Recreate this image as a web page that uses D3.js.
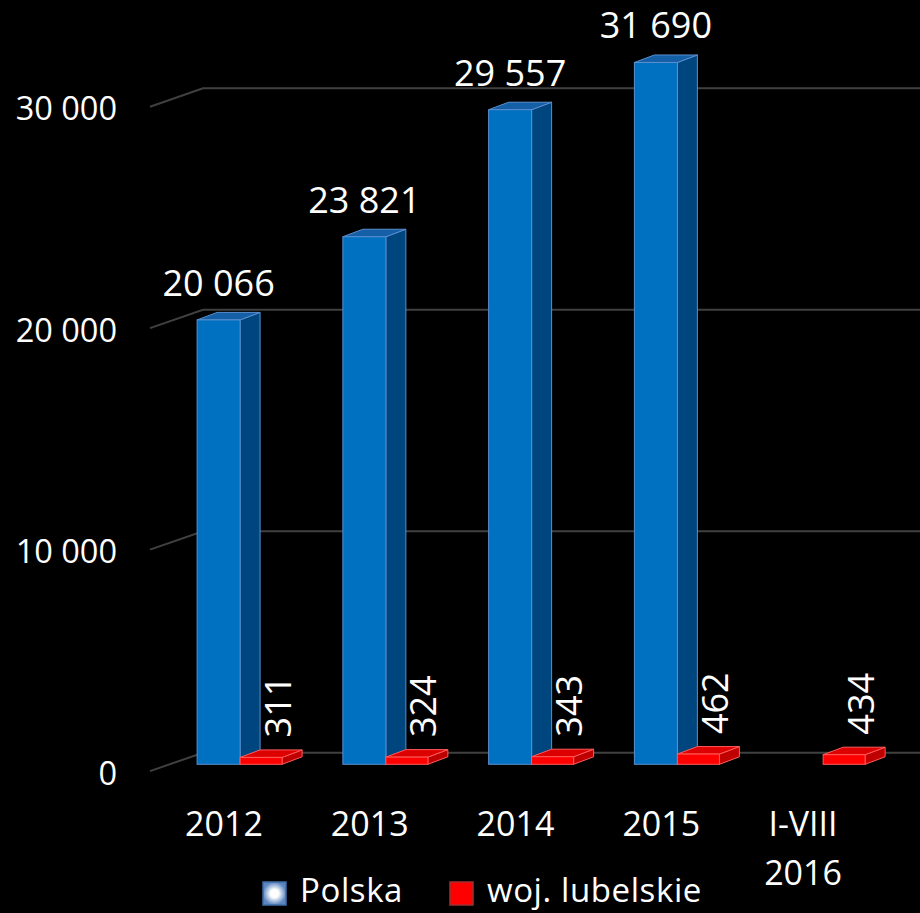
<!DOCTYPE html>
<html>
<head>
<meta charset="utf-8">
<style>
body { margin: 0; background: #000; }
svg { font-family: "Open Sans", sans-serif; display: block; }
</style>
<script src="https://d3js.org/d3.v7.min.js"></script>
</head>
<body>
<svg id="chart" width="920" height="913"></svg>
<script>

// data
var categories = ["2012", "2013", "2014", "2015", "I-VIII\n2016"];
var polska = [20066, 23821, 29557, 31690, null];
var lubelskie = [311, 324, 343, 462, 434];
var yTicks = [0, 10000, 20000, 30000];
var seriesNames = ["Polska", "woj. lubelskie"];

var width = 920, height = 913;

var svg = d3.select("#chart")
    .attr("width", width)
    .attr("height", height);

svg.append("rect")
    .attr("width", width)
    .attr("height", height)
    .attr("fill", "#000");

// back wall scale, the front plane is shifted by (-53, +18.4)
var y = d3.scaleLinear()
    .domain([0, 30000])
    .range([752.7, 88.3]);

var wallDx = 53, wallDy = 18.4;

// category bands on the front plane
var x = d3.scaleBand()
    .domain(categories)
    .range([151.1, 879.9])
    .padding(0);

var fmt = function(v) { return d3.format(",")(v).replace(/,/g, " "); };

// gridlines: diagonal on the floor side + horizontal on the back wall
var grid = svg.append("g").attr("class", "grid");
yTicks.forEach(function(t) {
    var yb = y(t);
    grid.append("polyline")
        .attr("points", [[150, yb + wallDy], [150 + wallDx, yb], [width, yb]].map(function(p) { return p.join(","); }).join(" "))
        .attr("fill", "none")
        .attr("stroke", "#404040")
        .attr("stroke-width", 2);
});

// y axis labels
svg.append("g")
    .selectAll("text")
    .data(yTicks)
    .enter().append("text")
    .attr("x", 117)
    .attr("y", function(d) { return y(d) + wallDy + 1; })
    .attr("text-anchor", "end")
    .attr("dominant-baseline", "central")
    .attr("fill", "#fff")
    .style("font-size", "32.5px")
    .text(fmt);

// bars sit a bit in front of the back wall
var barShift = 11.6;
var depthX = 20, depthY = -7.5;

var blueStyle = { front: "#0070C0", side: "#00467E", top: "#155FA6", edge: "#5A8FD0" };
var redStyle = { front: "#FF0000", side: "#BF0000", top: "#DD0000", edge: "#FF5A5A" };

function bar3d(g, x0, w, v, st) {
    var bottom = y(0) + barShift;
    var top = y(v) + barShift;
    var pts = function(a) { return a.map(function(p) { return p.join(","); }).join(" "); };
    g.append("polygon")
        .attr("points", pts([[x0 + w, top], [x0 + w + depthX, top + depthY], [x0 + w + depthX, bottom + depthY], [x0 + w, bottom]]))
        .attr("fill", st.side).attr("stroke", st.edge).attr("stroke-width", 1);
    g.append("polygon")
        .attr("points", pts([[x0, top], [x0 + depthX, top + depthY], [x0 + w + depthX, top + depthY], [x0 + w, top]]))
        .attr("fill", st.top).attr("stroke", st.edge).attr("stroke-width", 1);
    g.append("rect")
        .attr("x", x0).attr("y", top)
        .attr("width", w).attr("height", bottom - top)
        .attr("fill", st.front).attr("stroke", st.edge).attr("stroke-width", 1);
    return top;
}

var bars = svg.append("g").attr("class", "bars");
var labels = svg.append("g").attr("class", "labels");

categories.forEach(function(c, i) {
    var start = x(c);
    var g = bars.append("g");
    if (polska[i] != null) {
        var bx = start + 46, bw = 43;
        var top = bar3d(g, bx, bw, polska[i], blueStyle);
        labels.append("text")
            .attr("x", bx + bw / 2)
            .attr("y", top - 24)
            .attr("text-anchor", "middle")
            .attr("fill", "#fff")
            .style("font-size", "36px")
            .text(fmt(polska[i]));
    }
    var rx = start + 89, rw = 42;
    var rtop = bar3d(g, rx, rw, lubelskie[i], redStyle);
    labels.append("text")
        .attr("transform", "translate(" + (rx + 37) + "," + (rtop - 20) + ") rotate(-90)")
        .attr("dominant-baseline", "central")
        .attr("fill", "#fff")
        .style("font-size", "36px")
        .text(fmt(lubelskie[i]));
});

// category labels
var xl = svg.append("g").attr("class", "x-labels");
categories.forEach(function(c) {
    var lines = c.split("\n");
    var t = xl.append("text")
        .attr("text-anchor", "middle")
        .attr("fill", "#fff")
        .style("font-size", "34px");
    lines.forEach(function(l, k) {
        t.append("tspan")
            .attr("x", x(c) + x.bandwidth() / 2 - (lines.length > 1 ? 4 : 0))
            .attr("y", 836 + k * 49)
            .text(l);
    });
});

// legend
var defs = svg.append("defs");
var grad = defs.append("radialGradient").attr("id", "legBlue");
grad.append("stop").attr("offset", "0%").attr("stop-color", "#ffffff");
grad.append("stop").attr("offset", "35%").attr("stop-color", "#ffffff");
grad.append("stop").attr("offset", "100%").attr("stop-color", "#5B86C0");

var legend = svg.append("g").attr("class", "legend");
var legendItems = [
    { name: seriesNames[0], x: 263, fill: "url(#legBlue)", stroke: "#3F6EA8" },
    { name: seriesNames[1], x: 450, fill: "#FF0000", stroke: "#A03030" }
];
legendItems.forEach(function(d) {
    legend.append("rect")
        .attr("x", d.x).attr("y", 882)
        .attr("width", 23).attr("height", 23)
        .attr("fill", d.fill)
        .attr("stroke", d.stroke)
        .attr("stroke-width", 1.5);
    legend.append("text")
        .attr("x", d.x + 37)
        .attr("y", 902)
        .attr("fill", "#fff")
        .style("font-size", "33px")
        .style("letter-spacing", "0.6px")
        .text(d.name);
});

</script>
</body>
</html>
